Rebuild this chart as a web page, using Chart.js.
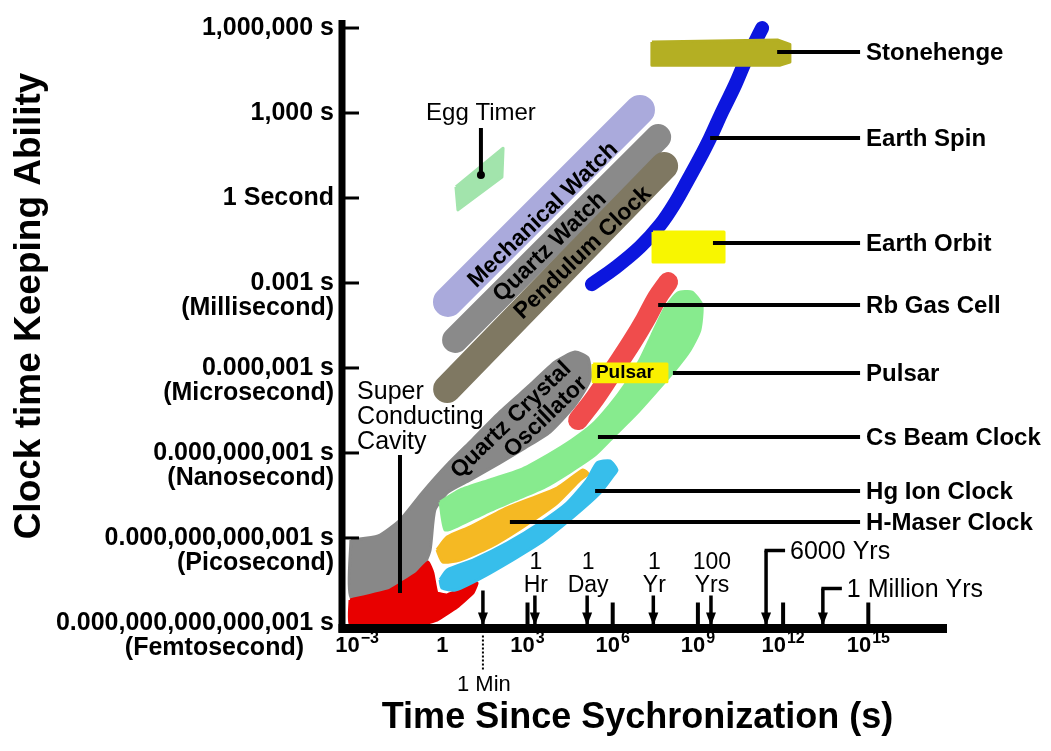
<!DOCTYPE html>
<html>
<head>
<meta charset="utf-8">
<title>Clock time keeping ability</title>
<script src="https://cdn.jsdelivr.net/npm/chart.js@4.4.0/dist/chart.umd.min.js"></script>
<style>
  html, body { margin: 0; padding: 0; background: #fff; }
  canvas { display: block; }
</style>
</head>
<body>
<canvas id="clockChart" width="1051" height="751"></canvas>
<script>
const FONT = "'Liberation Sans', Arial, sans-serif";

// every point is [log10 of time since sync (s), log10 of clock error (s)]
const eggTimer = [[0.48, 0.39], [0.55, -0.42], [2.10, 0.74], [2.14, 1.76]];
const mechanicalWatch = [[0.20, -3.67], [6.96, 3.11]];
const quartzWatch = [[0.45, -5.01], [7.60, 2.15]];
const pendulumClock = [[0.17, -6.74], [7.81, 1.13]];
const earthSpin = [[5.27, -3.04], [6.08, -2.47], [6.96, -1.73], [7.67, -0.95], [8.19, -0.18], [8.65, 0.64],
  [9.07, 1.41], [9.43, 2.12], [9.85, 3.04], [10.31, 3.99], [10.69, 4.87], [11.05, 5.58], [11.26, 6.00]];
const stonehenge = [[7.38, 5.51], [11.80, 5.58], [12.24, 5.42], [12.24, 4.80], [11.90, 4.69], [7.38, 4.69]];
const earthOrbit = [[7.42, -1.20], [9.92, -1.20], [9.92, -2.26], [7.42, -2.26]];
const rbGasCell = [[4.78, -7.84], [5.38, -7.06], [6.08, -6.00], [6.68, -5.08], [7.14, -4.31], [7.56, -3.53], [7.95, -2.97]];
const pulsar = [[5.31, -5.86], [7.91, -5.86], [7.91, -6.49], [5.31, -6.49]];
const csBeam = [[-0.08, -10.73], [0.62, -10.31], [1.68, -9.95], [2.74, -9.60], [3.72, -9.07], [4.57, -8.54],
  [5.27, -8.01], [5.90, -7.31], [6.43, -6.60], [6.96, -5.72], [7.38, -4.84], [7.84, -3.88], [8.30, -3.35],
  [8.79, -3.32], [9.14, -3.78], [9.07, -4.66], [8.72, -5.37], [8.19, -6.07], [7.49, -6.88], [6.79, -7.66],
  [6.08, -8.37], [5.38, -9.07], [4.50, -9.67], [3.62, -10.20], [2.56, -10.66], [1.50, -11.12], [0.62, -11.54], [0.10, -11.72]];
const quartzCrystal = [[-3.22, -12.07], [-2.26, -11.93], [-1.49, -11.37], [-0.71, -10.41], [0.17, -9.42], [1.05, -8.54],
  [2.03, -7.55], [3.09, -6.60], [3.97, -5.79], [4.67, -5.44], [5.13, -5.65], [5.20, -6.42], [4.67, -7.31],
  [3.79, -8.26], [2.91, -8.82], [2.03, -9.35], [0.98, -9.95], [0.20, -10.38], [-0.26, -11.01], [-0.43, -12.42],
  [-0.68, -13.03], [-1.24, -13.59], [-2.09, -13.94], [-3.22, -14.08]];
const superConducting = [[-3.25, -14.19], [-1.84, -13.84], [-0.89, -13.24], [-0.50, -12.85], [-0.33, -13.24],
  [-0.19, -13.94], [0.17, -14.01], [1.22, -13.59], [1.08, -13.94], [0.52, -14.44], [-0.19, -14.90], [-0.68, -15.04], [-3.25, -15.04]];
const hMaser = [[-0.19, -12.42], [0.17, -11.97], [0.98, -11.61], [2.28, -10.94], [4.04, -10.24], [4.95, -9.60],
  [5.13, -9.74], [4.85, -9.95], [4.04, -10.77], [2.84, -11.61], [1.68, -12.32], [0.62, -12.78], [0.02, -12.85]];
const hgIon = [[-0.08, -13.48], [0.17, -13.13], [1.08, -12.78], [2.28, -12.18], [3.44, -11.47], [4.39, -10.77],
  [5.10, -9.95], [5.45, -9.35], [5.90, -9.28], [6.15, -9.60], [6.01, -9.81], [5.55, -10.41], [4.60, -11.26],
  [3.44, -12.18], [1.68, -13.24], [0.45, -13.84], [-0.01, -13.77]];

const yTickValues = [6, 3, 0, -3, -6, -9, -12, -15];
const yTickLabels = [["1,000,000 s"], ["1,000 s"], ["1 Second"], ["0.001 s", "(Millisecond)"],
  ["0.000,001 s", "(Microsecond)"], ["0.000,000,001 s", "(Nanosecond)"],
  ["0.000,000,000,001 s", "(Picosecond)"], ["0.000,000,000,000,001 s", "(Femtosecond)"]];
const xTickValues = [-3, 0, 3, 6, 9, 12, 15];
const xTickBase = ["10", "1", "10", "10", "10", "10", "10"];
const xTickPower = ["\u22123", "", "3", "6", "9", "12", "15"];
const xMajorMarks = [3, 6, 9, 12, 15];

const markLabels = ["1 Min", "1 Hr", "1 Day", "1 Yr", "100 Yrs", "6000 Yrs", "1 Million Yrs"];
const markTimes = [1.43, 3.26, 5.10, 7.43, 9.46, 11.40, 13.40];

const callouts = [
  { text: "Stonehenge", from: [11.79, 5.15] },
  { text: "Earth Spin", from: [9.43, 2.12] },
  { text: "Earth Orbit", from: [9.53, -1.59] },
  { text: "Rb Gas Cell", from: [7.60, -3.78] },
  { text: "Pulsar", from: [8.12, -6.18] },
  { text: "Cs Beam Clock", from: [5.48, -8.44] },
  { text: "Hg Ion Clock", from: [5.38, -10.34] },
  { text: "H-Maser Clock", from: [2.38, -11.44] }
];
const calloutEnd = 14.71;
const bandLabels = [
  { text: "Mechanical Watch", at: [3.55, -0.60] },
  { text: "Quartz Watch", at: [3.79, -1.73] },
  { text: "Pendulum Clock", at: [4.95, -1.94] },
  { text: "Quartz Crystal", at: [2.42, -7.84] },
  { text: "Oscillator", at: [3.65, -7.73] }
];

const toPoints = list => list.map(([ex, ey]) => ({ x: 10 ** ex, y: 10 ** ey }));
const closed = list => toPoints(list.concat([list[0]]));

function band(data, color, width) {
  return { data: toPoints(data), showLine: true, fill: false, borderColor: color, borderWidth: width,
    borderCapStyle: 'round', borderJoinStyle: 'round', tension: 0.4, pointRadius: 0 };
}
function blob(data, color, tension) {
  return { data: closed(data), showLine: true, fill: 'shape', backgroundColor: color, borderColor: color,
    borderWidth: 3, borderJoinStyle: 'round', tension: tension, pointRadius: 0 };
}

// bottom first, top last
const layers = [
  blob(quartzCrystal, 'rgb(136,136,136)', 0.2),
  blob(superConducting, 'rgb(232,0,0)', 0.1),
  blob(csBeam, 'rgb(135,235,142)', 0.2),
  band(rbGasCell, 'rgb(240,76,76)', 20),
  blob(hMaser, 'rgb(245,185,35)', 0.2),
  blob(hgIon, 'rgb(55,190,235)', 0.2),
  blob(eggTimer, 'rgb(162,228,172)', 0),
  band(mechanicalWatch, 'rgb(170,170,220)', 30),
  band(quartzWatch, 'rgb(138,138,138)', 26),
  band(pendulumClock, 'rgb(127,120,98)', 28),
  band(earthSpin, 'rgb(12,22,222)', 14),
  blob(stonehenge, 'rgb(180,175,35)', 0),
  blob(earthOrbit, 'rgb(248,246,0)', 0),
  blob(pulsar, 'rgb(250,240,0)', 0)
];
const datasets = layers.map((d, i) => ({ ...d, order: layers.length - i }));

function write(ctx, str, x, y, font, align) {
  ctx.font = font;
  ctx.textAlign = align || 'left';
  ctx.textBaseline = 'middle';
  ctx.fillText(str, x, y);
}
function line(ctx, x1, y1, x2, y2) {
  ctx.beginPath();
  ctx.moveTo(x1, y1);
  ctx.lineTo(x2, y2);
  ctx.stroke();
}
function arrowDown(ctx, x, top, bottom) {
  ctx.lineWidth = 3.5;
  line(ctx, x, top, x, bottom - 4);
  ctx.beginPath();
  ctx.moveTo(x - 5, bottom - 16);
  ctx.lineTo(x + 5, bottom - 16);
  ctx.lineTo(x, bottom - 3);
  ctx.closePath();
  ctx.fill();
}

const overlay = {
  id: 'overlay',
  afterDatasetsDraw(chart) {
    const { ctx, chartArea: a, scales } = chart;
    const X = e => scales.x.getPixelForValue(10 ** e);
    const Y = e => scales.y.getPixelForValue(10 ** e);
    ctx.save();
    ctx.fillStyle = '#000';
    ctx.strokeStyle = '#000';

    bandLabels.forEach(b => {
      ctx.save();
      ctx.translate(X(b.at[0]), Y(b.at[1]));
      ctx.rotate(-44 * Math.PI / 180);
      write(ctx, b.text, 0, 0, 'bold 23px ' + FONT, 'center');
      ctx.restore();
    });
    write(ctx, 'Pulsar', X(6.43), Y(-6.18), 'bold 19px ' + FONT, 'center');

    // names on the right
    ctx.lineWidth = 4;
    callouts.forEach(c => {
      const y = Y(c.from[1]);
      line(ctx, X(c.from[0]), y, X(calloutEnd), y);
      write(ctx, c.text, X(calloutEnd) + 6, y + 1, 'bold 24px ' + FONT);
    });

    write(ctx, 'Egg Timer', X(1.36), Y(3.0), '24px ' + FONT, 'center');
    line(ctx, X(1.36), Y(2.47), X(1.36), Y(0.81));
    ctx.beginPath();
    ctx.arc(X(1.36), Y(0.81), 4, 0, Math.PI * 2);
    ctx.fill();

    ['Super', 'Conducting', 'Cavity'].forEach((w, i) => {
      write(ctx, w, X(-3.0), Y(-6.85) + i * 25, '25px ' + FONT);
    });
    line(ctx, X(-1.49), Y(-9.07), X(-1.49), Y(-13.94));

    // axes
    ctx.lineWidth = 7;
    line(ctx, a.left, a.top, a.left, a.bottom + 4);
    ctx.lineWidth = 9;
    line(ctx, a.left - 3.5, a.bottom, a.right, a.bottom);

    ctx.lineWidth = 3;
    yTickValues.forEach((v, i) => {
      const y = Y(v);
      if (v > -15) line(ctx, a.left, y, a.left + 17, y);
      const lines = yTickLabels[i];
      write(ctx, lines[0], a.left - 8, y, 'bold 25px ' + FONT, 'right');
      if (lines[1]) {
        const shift = v === -15 ? 30 : 0;
        write(ctx, lines[1], a.left - 8 - shift, y + 25, 'bold 25px ' + FONT, 'right');
      }
    });

    ctx.lineWidth = 4;
    xMajorMarks.forEach(v => line(ctx, X(v), a.bottom - 26, X(v), a.bottom));

    xTickValues.forEach((v, i) => {
      const x = X(v);
      const y = a.bottom + 17;
      ctx.font = 'bold 22px ' + FONT;
      const w1 = ctx.measureText(xTickBase[i]).width;
      ctx.font = 'bold 16px ' + FONT;
      const w2 = xTickPower[i] ? ctx.measureText(xTickPower[i]).width + 1 : 0;
      const left = x - (w1 + w2) / 2;
      write(ctx, xTickBase[i], left, y, 'bold 22px ' + FONT);
      if (w2) write(ctx, xTickPower[i], left + w1 + 1, y - 7, 'bold 16px ' + FONT);
    });

    // time markers above the axis
    markTimes.forEach((t, i) => {
      const x = X(t);
      const label = markLabels[i];
      if (i === 0) {
        arrowDown(ctx, x, a.bottom - 38, a.bottom);
        for (let y = a.bottom + 7; y < a.bottom + 40; y += 4) ctx.fillRect(x - 1, y, 2, 2);
        write(ctx, label, x + 1, a.bottom + 56, '22px ' + FONT, 'center');
      } else if (i < 5) {
        arrowDown(ctx, x, a.bottom - 33, a.bottom);
        const words = label.split(' ');
        write(ctx, words[0], x + 1, a.bottom - 66, '23px ' + FONT, 'center');
        write(ctx, words[1], x + 1, a.bottom - 43, '23px ' + FONT, 'center');
      } else {
        const rise = i === 5 ? 78 : 40;
        arrowDown(ctx, x, a.bottom - rise, a.bottom);
        ctx.lineWidth = 3.5;
        line(ctx, x - 1.5, a.bottom - rise, x + 19, a.bottom - rise);
        write(ctx, label, x + 24, a.bottom - rise + 2, '25px ' + FONT);
      }
    });

    // axis titles
    ctx.save();
    ctx.translate(30, 306);
    ctx.rotate(-Math.PI / 2);
    write(ctx, 'Clock time Keeping Ability', 0, 0, 'bold 37px ' + FONT, 'center');
    ctx.restore();
    write(ctx, 'Time Since Sychronization (s)', (a.left + a.right) / 2 - 7, a.bottom + 90, 'bold 36px ' + FONT, 'center');

    ctx.restore();
  }
};

const ctx = document.getElementById('clockChart').getContext('2d');
new Chart(ctx, {
  type: 'scatter',
  data: { datasets: datasets },
  options: {
    responsive: false,
    animation: false,
    devicePixelRatio: 1,
    layout: { padding: { left: 342, right: 104, top: 20, bottom: 122.5 } },
    scales: {
      x: { type: 'logarithmic', display: false, min: 10 ** -3.532, max: 10 ** 17.771 },
      y: { type: 'logarithmic', display: false, min: 10 ** -15.196, max: 10 ** 6.283 }
    },
    plugins: { legend: { display: false }, tooltip: { enabled: false } }
  },
  plugins: [overlay]
});
</script>
</body>
</html>
